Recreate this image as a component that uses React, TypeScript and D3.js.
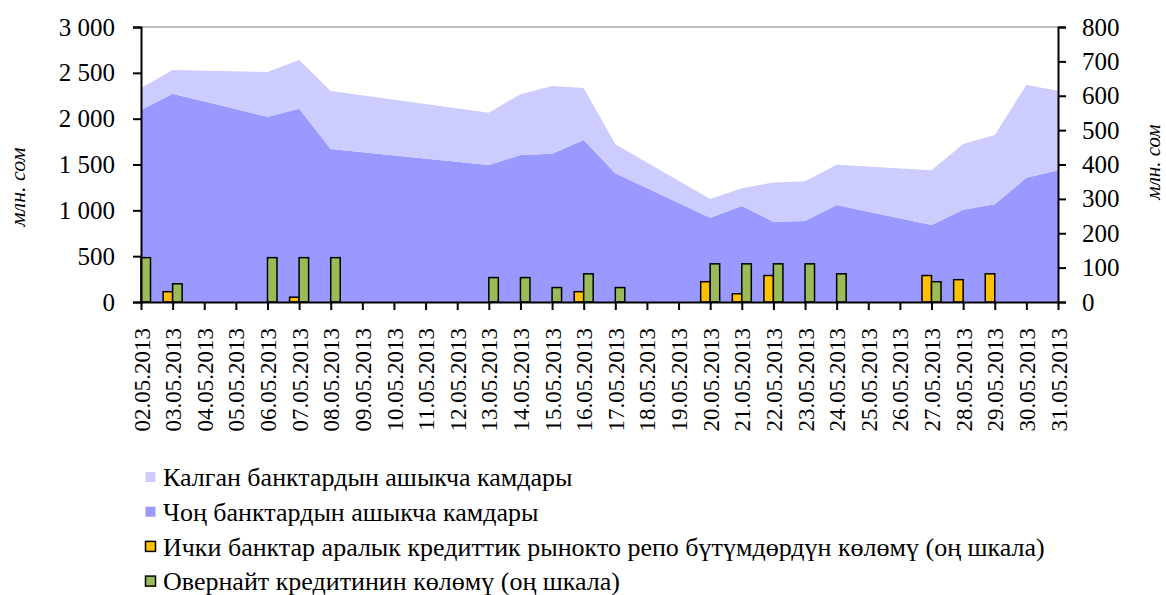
import React, { useEffect, useRef } from 'react';
import * as d3 from 'd3';

// all calendar days on the x axis
const days = [
  '02.05.2013', '03.05.2013', '04.05.2013', '05.05.2013', '06.05.2013', '07.05.2013',
  '08.05.2013', '09.05.2013', '10.05.2013', '11.05.2013', '12.05.2013', '13.05.2013',
  '14.05.2013', '15.05.2013', '16.05.2013', '17.05.2013', '18.05.2013', '19.05.2013',
  '20.05.2013', '21.05.2013', '22.05.2013', '23.05.2013', '24.05.2013', '25.05.2013',
  '26.05.2013', '27.05.2013', '28.05.2013', '29.05.2013', '30.05.2013', '31.05.2013',
];

// business days that actually carry data
const dataDays = [
  '02.05.2013', '03.05.2013', '06.05.2013', '07.05.2013', '08.05.2013', '13.05.2013',
  '14.05.2013', '15.05.2013', '16.05.2013', '17.05.2013', '20.05.2013', '21.05.2013',
  '22.05.2013', '23.05.2013', '24.05.2013', '27.05.2013', '28.05.2013', '29.05.2013',
  '30.05.2013', '31.05.2013',
];

// left scale, mln som
const largeBanks = [2094, 2272, 2022, 2109, 1669, 1495, 1604, 1618, 1767, 1404, 920, 1047, 876, 884, 1058, 840, 1007, 1066, 1356, 1437];
const otherBanks = [241, 259, 487, 531, 633, 570, 662, 738, 568, 316, 204, 193, 429, 432, 440, 597, 717, 756, 1011, 868];

// right scale, mln som
const repo = [0, 30, 0, 14, 0, 0, 0, 0, 30, 0, 59, 24, 77, 0, 0, 77, 65, 82, 0, 0];
const overnight = [129, 53, 129, 129, 129, 71, 71, 42, 82, 42, 111, 111, 111, 111, 82, 59, 0, 0, 0, 0];

const leftTicks = [0, 500, 1000, 1500, 2000, 2500, 3000];
const rightTicks = [0, 100, 200, 300, 400, 500, 600, 700, 800];

const legendItems = [
  { label: 'Калган банктардын ашыкча камдары', color: '#CCCCFF', border: false },
  { label: 'Чоң банктардын ашыкча камдары', color: '#9999FF', border: false },
  { label: 'Ички банктар аралык кредиттик рынокто репо бүтүмдөрдүн көлөмү (оң шкала)', color: '#FFC000', border: true },
  { label: 'Овернайт кредитинин көлөмү (оң шкала)', color: '#9BBB59', border: true },
];

const FONT = 'Liberation Serif';

function ReservesChart() {
  const ref = useRef<SVGSVGElement>(null);

  useEffect(() => {
    const svg = d3.select(ref.current);
    svg.selectAll('*').remove();

    const margin = { top: 27, right: 108, bottom: 293, left: 141 };
    const width = 1166, height = 595;
    const plotBottom = height - margin.bottom;

    const x = d3.scalePoint<string>()
      .domain(days)
      .range([margin.left, width - margin.right]);

    const yLeft = d3.scaleLinear().domain([0, 3000]).range([plotBottom, margin.top]);
    const yRight = d3.scaleLinear().domain([0, 800]).range([plotBottom, margin.top]);

    const rows = dataDays.map((day, i) => ({
      day,
      large: largeBanks[i],
      other: otherBanks[i],
      repo: repo[i],
      overnight: overnight[i],
    }));

    // stacked areas: large banks at the bottom, other banks on top
    const stack = d3.stack<any>().keys(['large', 'other'])(rows);
    const areaColors = { large: '#9999FF', other: '#CCCCFF' };
    const area = d3.area<any>()
      .x(d => x(d.data.day) as number)
      .y0(d => yLeft(d[0]))
      .y1(d => yLeft(d[1]));

    svg.append('g')
      .selectAll('path')
      .data(stack)
      .join('path')
      .attr('fill', d => areaColors[d.key])
      .attr('d', area);

    // top border of the plot
    svg.append('line')
      .attr('x1', margin.left).attr('x2', width - margin.right)
      .attr('y1', margin.top).attr('y2', margin.top)
      .attr('stroke', '#808080').attr('stroke-width', 1);

    // clustered bars on the right scale
    const inner = d3.scaleBand().domain(['repo', 'overnight']).range([-9.5, 9.5]);
    const barColors = { repo: '#FFC000', overnight: '#9BBB59' };
    const bars = rows.flatMap(r => (['repo', 'overnight'] as const)
      .filter(k => r[k] > 0)
      .map(k => ({ day: r.day, key: k, value: r[k] })));

    svg.append('g')
      .selectAll('rect')
      .data(bars)
      .join('rect')
      .attr('x', d => (x(d.day) as number) + (inner(d.key) as number))
      .attr('y', d => yRight(d.value))
      .attr('width', inner.bandwidth())
      .attr('height', d => plotBottom - yRight(d.value))
      .attr('fill', d => barColors[d.key])
      .attr('stroke', '#000')
      .attr('stroke-width', 1.5);

    const styleAxis = (g, size) => {
      g.attr('font-family', FONT);
      g.select('.domain').attr('stroke', '#000').attr('stroke-width', 2);
      g.selectAll('.tick line').attr('stroke', '#000').attr('stroke-width', 2);
      g.selectAll('text').attr('font-family', FONT).attr('font-size', size).attr('fill', '#000');
    };

    // left axis
    const gLeft = svg.append('g')
      .attr('transform', `translate(${margin.left},0)`)
      .call(d3.axisLeft(yLeft).tickValues(leftTicks).tickSize(8).tickPadding(18)
        .tickFormat(d => d3.format(',')(d as number).replace(',', ' ')));
    styleAxis(gLeft, 25);

    // right axis
    const gRight = svg.append('g')
      .attr('transform', `translate(${width - margin.right},0)`)
      .call(d3.axisRight(yRight).tickValues(rightTicks).tickSize(8).tickPadding(16));
    styleAxis(gRight, 25);

    // bottom axis with rotated dates
    const gBottom = svg.append('g')
      .attr('transform', `translate(0,${plotBottom})`)
      .call(d3.axisBottom(x).tickSize(8).tickSizeOuter(0));
    styleAxis(gBottom, 23);
    gBottom.selectAll('.tick text')
      .attr('transform', 'rotate(-90)')
      .attr('text-anchor', 'end')
      .attr('x', -26)
      .attr('y', 0)
      .attr('dy', '0.35em');

    // axis titles
    svg.append('text')
      .attr('transform', 'translate(25,187) rotate(-90)')
      .attr('text-anchor', 'middle')
      .attr('font-family', FONT).attr('font-style', 'italic').attr('font-size', 22)
      .text('млн. сом');
    svg.append('text')
      .attr('transform', 'translate(1160,162) rotate(-90)')
      .attr('text-anchor', 'middle')
      .attr('font-family', FONT).attr('font-style', 'italic').attr('font-size', 21)
      .text('млн. сом');

    // legend
    const legend = svg.append('g').attr('transform', 'translate(145,477)');
    const item = legend.selectAll('g')
      .data(legendItems)
      .join('g')
      .attr('transform', (d, i) => `translate(0,${i * 34.7})`);
    item.append('rect')
      .attr('x', 0.5).attr('y', -5)
      .attr('width', 10).attr('height', 10)
      .attr('fill', d => d.color)
      .attr('stroke', d => (d.border ? '#000' : 'none'))
      .attr('stroke-width', 1.5);
    item.append('text')
      .attr('x', 18).attr('dy', '0.35em')
      .attr('font-family', FONT).attr('font-size', 26)
      .text(d => d.label);
  }, []);

  return <svg ref={ref} width="1166" height="595"
    style={{ position: 'absolute', left: 0, top: 0, background: '#fff' }}></svg>;
}

export default function App() {
  return <ReservesChart />;
}
